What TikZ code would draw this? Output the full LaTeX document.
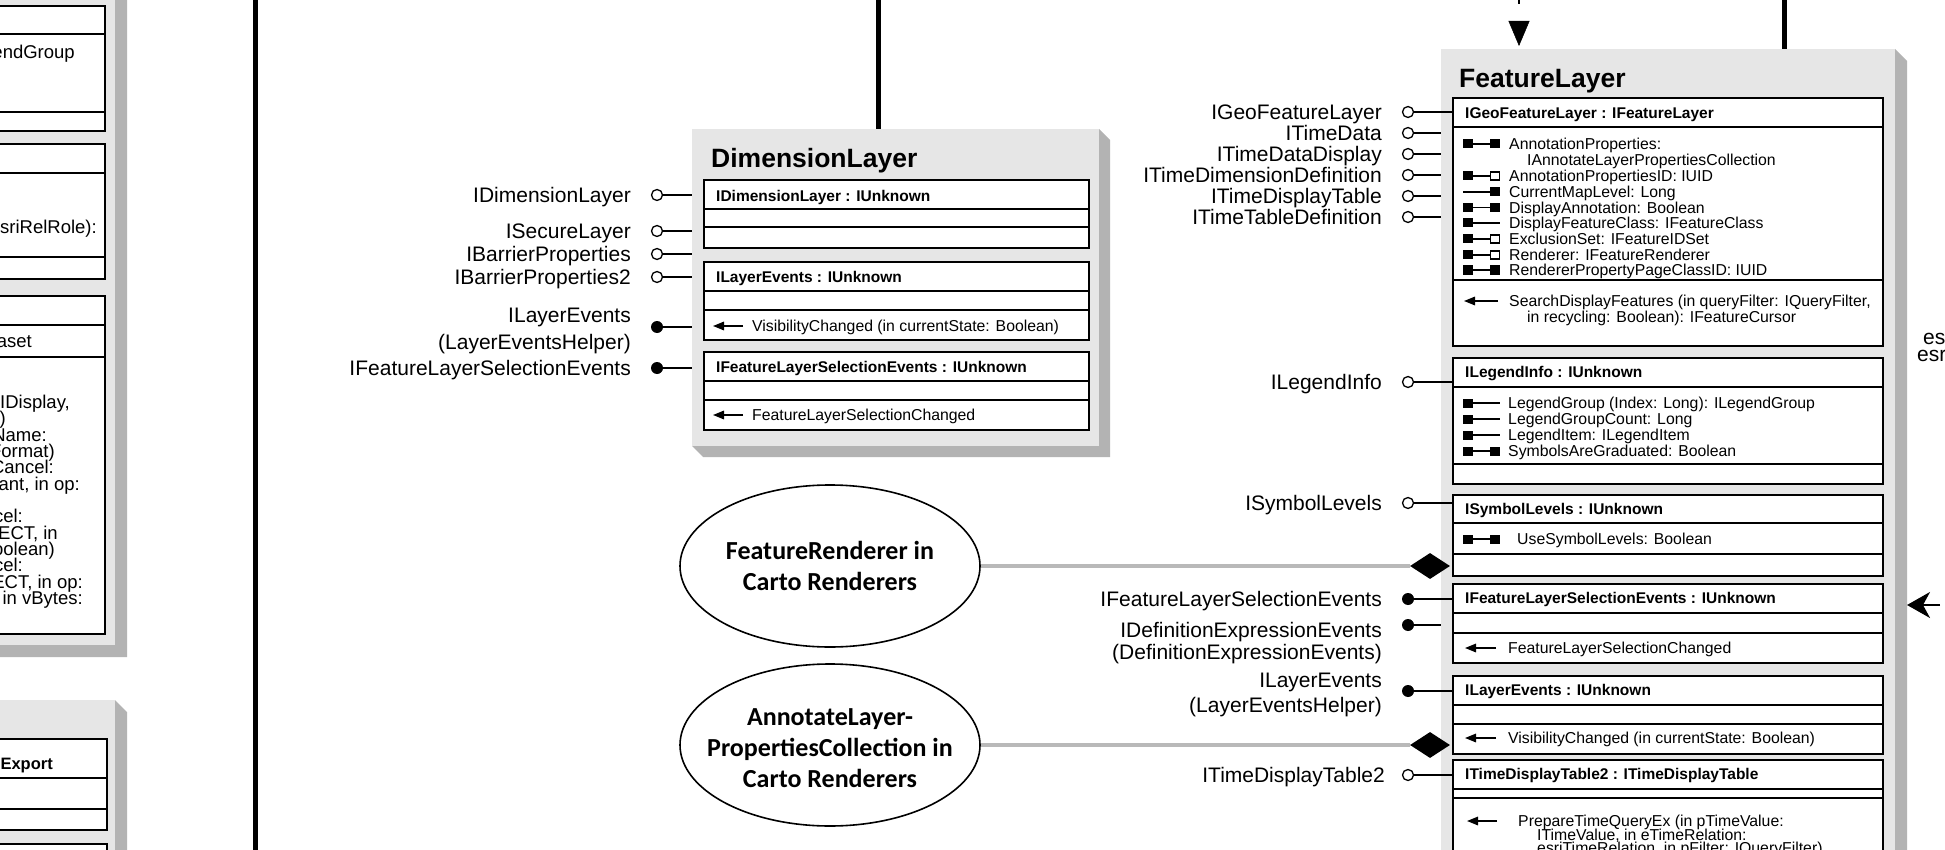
\documentclass[tikz,border=0pt]{standalone}
\usepackage{fontspec}
\setmainfont{Liberation Sans}
\newfontfamily\carlito{Carlito}
\usetikzlibrary{arrows.meta,shapes.geometric}
\definecolor{panelc}{HTML}{E6E6E6}
\definecolor{shadowc}{HTML}{B3B3B3}
\definecolor{linkc}{HTML}{B9B9B9}
\tikzset{
 lbl/.style={font=\fontsize{21}{21}\selectfont, inner sep=0pt, anchor=base east},
 btx/.style={font=\fontsize{15.8}{16}\selectfont, inner sep=0pt, anchor=base west},
 ltx/.style={font=\fontsize{18.5}{18.5}\selectfont, inner sep=0pt, anchor=base east},
 bhd/.style={font=\bfseries\fontsize{15.5}{16}\selectfont, inner sep=0pt, anchor=base west},
 bhde/.style={font=\bfseries\fontsize{16.5}{17}\selectfont, inner sep=0pt, anchor=base east},
 ttl/.style={font=\bfseries\fontsize{26.5}{28}\selectfont, inner sep=0pt, anchor=base west},
 cbox/.style={draw, line width=1.6pt, fill=white, inner sep=0pt, anchor=north west},
 cdiv/.style={line width=1.5pt},
 panelsty/.style={fill=panelc, draw=none, inner sep=0pt, anchor=north west},
 olol/.style={circle, draw, line width=1.3pt, fill=white, inner sep=0pt, minimum size=11pt},
 flol/.style={circle, fill=black, inner sep=0pt, minimum size=12pt},
 lolline/.style={line width=1.5pt},
 marrow/.style={line width=1.6pt, -{Triangle[length=11pt,width=8.5pt]}},
 bigline/.style={line width=5pt},
 link/.style={line width=3.5pt, draw=linkc},
 comp/.style={diamond, fill=black, inner sep=0pt, minimum width=40pt, minimum height=26pt},
 clsE/.style={ellipse, draw, line width=1.6pt, minimum width=300pt, minimum height=162pt, inner sep=0pt},
 clsT/.style={align=center, inner sep=0pt, font=\carlito\bfseries\fontsize{26}{31}\selectfont},
}
% name L T W H s
\newcommand\Panel[6]{%
 \fill[shadowc] (#2+#4,#3) -- ++(#6,#6) -- ++(0,#5) -- ++(-#4,0) -- ++(-#6,-#6) -- cycle;
 \node[panelsty, minimum width=#4pt, minimum height=#5pt] (#1) at (#2,#3) {};}
% name x y w h
\newcommand\CBox[5]{\node[cbox, minimum width=#4pt, minimum height=#5pt] (#1) at (#2,#3) {};}
\newcommand\Div[3]{\draw[cdiv] (#1,#3) -- (#2,#3);}
\newcommand\Sq[2]{\fill (#1-5,#2-4.5) rectangle (#1+5,#2+4.5);}
\newcommand\OSq[2]{\draw[line width=1.1pt,fill=white] (#1-4.5,#2-4) rectangle (#1+4.5,#2+4);}
\newcommand\Stm[3]{\draw[line width=1.5pt] (#1,#3) -- (#2,#3);}
\newcommand\IFF[1]{\Sq{1468}{#1}\Stm{1473}{1490}{#1}\Sq{1495}{#1}}
\newcommand\IFO[1]{\Sq{1468}{#1}\Stm{1473}{1490}{#1}\OSq{1495}{#1}}
\newcommand\ILF[1]{\Stm{1463}{1490}{#1}\Sq{1495}{#1}}
\newcommand\IFL[1]{\Sq{1468}{#1}\Stm{1473}{1500}{#1}}
\newcommand\MArr[3]{\draw[marrow] (#2,#3) -- (#1,#3);}
% name style cx cy endx
\newcommand\Lol[5]{\node[#2] (#1) at (#3,#4) {}; \coordinate (#1e) at (#5,#4); \draw[lolline] (#1) -- (#1e);}

\begin{document}
\begin{tikzpicture}[x=1pt,y=-1pt]
\useasboundingbox (0,0) rectangle (1945,850);
\clip (0,0) rectangle (1945,850);

% ---------------- left partial panels ----------------
\Panel{lp1}{-60}{-60}{175}{705}{12}
\CBox{lb1}{-20}{5}{124}{125}
\Div{-20}{104}{34}\Div{-20}{104}{112}
\node[ltx] (lt1) at (75,59) {(Index: Long): ILegendGroup};
\CBox{lb2}{-20}{143}{124}{135}
\Div{-20}{104}{173}\Div{-20}{104}{257}
\node[ltx] (lt2) at (97,233.5) {in role: esriRelRole):};
\CBox{lb3}{-20}{295}{124}{338}
\Div{-20}{104}{325}\Div{-20}{104}{357}
\node[ltx] (lt3) at (32,347.5) {IDataset};
\node[ltx] (lm1) at (70,408.5) {Display: IDisplay,};
\node[ltx] (lm2) at (6,424.5) {OLE\_HANDLE)};
\node[ltx] (lm3) at (47,441.5) {in Name:};
\node[ltx] (lm4) at (55,457.5) {in Format)};
\node[ltx] (lm5) at (54,473.5) {trackCancel:};
\node[ltx] (lm6) at (80,490.5) {Variant, in op:};
\node[ltx] (lm7) at (23,522.5) {trackCancel:};
\node[ltx] (lm8) at (58,539.5) {tagRECT, in};
\node[ltx] (lm9) at (55,555.5) {Boolean)};
\node[ltx] (lm10) at (23,571.5) {trackCancel:};
\node[ltx] (lm11) at (83,588.5) {tagRECT, in op:};
\node[ltx] (lm12) at (83,604.5) {Variant, in vBytes:};

\Panel{lp2}{-60}{700}{175}{200}{12}
\CBox{lb4}{-20}{738}{126}{91}
\Div{-20}{106}{778}\Div{-20}{106}{809}
\node[bhde] (lt4) at (53,769) {Export};
\CBox{lb5}{-20}{843}{126}{60}

% ---------------- vertical lines ----------------
\coordinate (t1) at (255,-10); \coordinate (b1) at (255,860);
\draw[bigline] (t1) -- (b1);

% ---------------- DimensionLayer ----------------
\Panel{dimP}{692}{129}{407}{317}{11}
\coordinate (t2) at (878,-10);
\draw[bigline] (t2) -- (t2 |- dimP.north);
\node[ttl] (dimT) at (711,167.5) {DimensionLayer};
\CBox{dA}{703}{179}{385}{68}
\Div{703}{1088}{209}\Div{703}{1088}{227}
\node[bhd] (dAh) at (716,201.6) {IDimensionLayer : IUnknown};
\CBox{dB}{703}{261}{385}{78}
\Div{703}{1088}{291}\Div{703}{1088}{310}
\node[bhd] (dBh) at (716,282.6) {ILayerEvents : IUnknown};
\MArr{713}{743}{326}
\node[btx] (dBm) at (752,331.6) {VisibilityChanged (in currentState: Boolean)};
\CBox{dC}{703}{351}{385}{78}
\Div{703}{1088}{381}\Div{703}{1088}{400}
\node[bhd] (dCh) at (716,372.6) {IFeatureLayerSelectionEvents : IUnknown};
\MArr{713}{743}{415}
\node[btx] (dCm) at (752,420.6) {FeatureLayerSelectionChanged};

\Lol{dl1}{olol}{657}{195}{692}
\node[lbl] (dl1t) at (631,202.5) {IDimensionLayer};
\Lol{dl2}{olol}{657}{231}{692}
\node[lbl] (dl2t) at (631,238.5) {ISecureLayer};
\Lol{dl3}{olol}{657}{254}{692}
\node[lbl] (dl3t) at (631,261.5) {IBarrierProperties};
\Lol{dl4}{olol}{657}{277}{692}
\node[lbl] (dl4t) at (631,284.5) {IBarrierProperties2};
\Lol{dl5}{flol}{657}{327}{692}
\node[lbl] (dl5t) at (631,322.5) {ILayerEvents};
\node[lbl] (dl5u) at (631,349.5) {(LayerEventsHelper)};
\Lol{dl6}{flol}{657}{368}{692}
\node[lbl] (dl6t) at (631,375.5) {IFeatureLayerSelectionEvents};

% ---------------- FeatureLayer ----------------
\Panel{flP}{1441}{49}{454}{851}{12}
\coordinate (t3) at (1784,-10);
\draw[bigline] (t3) -- (t3 |- flP.north);
\coordinate (t4) at (1519,-10); \coordinate (t4b) at (1519,4);
\draw[line width=2.5pt] (t4) -- (t4b);
\coordinate (a4s) at (1519,21); \coordinate (a4) at (1519,46);
\draw[line width=0.5pt, -{Triangle[length=25pt,width=21pt]}] (a4s) -- (a4);
\node[ttl] (flT) at (1459,87.5) {FeatureLayer};

\CBox{f1}{1452}{97}{430}{248}
\Div{1452}{1882}{127}\Div{1452}{1882}{280}
\node[bhd] (f1h) at (1465,118.6) {IGeoFeatureLayer : IFeatureLayer};
\IFF{144}\node[btx] (f1a) at (1509,149.6) {AnnotationProperties:};
\node[btx] (f1b) at (1527,165.6) {IAnnotateLayerPropertiesCollection};
\IFO{176}\node[btx] (f1c) at (1509,181.6) {AnnotationPropertiesID: IUID};
\ILF{192}\node[btx] (f1d) at (1509,197.6) {CurrentMapLevel: Long};
\IFF{207.5}\node[btx] (f1e) at (1509,213.1) {DisplayAnnotation: Boolean};
\IFL{223}\node[btx] (f1f) at (1509,228.6) {DisplayFeatureClass: IFeatureClass};
\IFO{239}\node[btx] (f1g) at (1509,244.6) {ExclusionSet: IFeatureIDSet};
\IFO{255}\node[btx] (f1i) at (1509,260.6) {Renderer: IFeatureRenderer};
\IFF{270}\node[btx] (f1j) at (1509,275.6) {RendererPropertyPageClassID: IUID};
\MArr{1464}{1498}{301}
\node[btx] (f1k) at (1509,306.6) {SearchDisplayFeatures (in queryFilter: IQueryFilter,};
\node[btx] (f1l) at (1527,322.6) {in recycling: Boolean): IFeatureCursor};

\CBox{f2}{1452}{357}{430}{126}
\Div{1452}{1882}{387}\Div{1452}{1882}{464}
\node[bhd] (f2h) at (1465,377.6) {ILegendInfo : IUnknown};
\IFL{403}\node[btx] (f2a) at (1508,408.6) {LegendGroup (Index: Long): ILegendGroup};
\IFL{419}\node[btx] (f2b) at (1508,424.6) {LegendGroupCount: Long};
\IFL{435}\node[btx] (f2c) at (1508,440.6) {LegendItem: ILegendItem};
\IFF{451}\node[btx] (f2d) at (1508,456.6) {SymbolsAreGraduated: Boolean};

\CBox{f3}{1452}{494}{430}{81}
\Div{1452}{1882}{523}\Div{1452}{1882}{554}
\node[bhd] (f3h) at (1465,514.6) {ISymbolLevels : IUnknown};
\IFF{539}\node[btx] (f3a) at (1517,544.6) {UseSymbolLevels: Boolean};

\CBox{f4}{1452}{583}{430}{79}
\Div{1452}{1882}{613}\Div{1452}{1882}{633}
\node[bhd] (f4h) at (1465,603.6) {IFeatureLayerSelectionEvents : IUnknown};
\MArr{1465}{1496}{648}
\node[btx] (f4a) at (1508,653.6) {FeatureLayerSelectionChanged};

\CBox{f5}{1452}{675}{430}{78}
\Div{1452}{1882}{705}\Div{1452}{1882}{724}
\node[bhd] (f5h) at (1465,695.6) {ILayerEvents : IUnknown};
\MArr{1465}{1496}{738}
\node[btx] (f5a) at (1508,743.6) {VisibilityChanged (in currentState: Boolean)};

\CBox{f6}{1452}{759}{430}{140}
\Div{1452}{1882}{789}\Div{1452}{1882}{798}
\node[bhd] (f6h) at (1465,779.6) {ITimeDisplayTable2 : ITimeDisplayTable};
\MArr{1467}{1497}{821}
\node[btx] (f6a) at (1518,826.6) {PrepareTimeQueryEx (in pTimeValue:};
\node[btx] (f6b) at (1537,840.1) {ITimeValue, in eTimeRelation:};
\node[btx] (f6c) at (1537,853.6) {esriTimeRelation, in pFilter: IQueryFilter)};

% lollipops of FeatureLayer
\Lol{fl1}{olol}{1408}{112}{1452}
\node[lbl] (fl1t) at (1382,119.5) {IGeoFeatureLayer};
\Lol{fl2}{olol}{1408}{133}{1441}
\node[lbl] (fl2t) at (1382,140.5) {ITimeData};
\Lol{fl3}{olol}{1408}{154}{1441}
\node[lbl] (fl3t) at (1382,161.5) {ITimeDataDisplay};
\Lol{fl4}{olol}{1408}{175}{1441}
\node[lbl] (fl4t) at (1382,182.5) {ITimeDimensionDefinition};
\Lol{fl5}{olol}{1408}{196}{1441}
\node[lbl] (fl5t) at (1382,203.5) {ITimeDisplayTable};
\Lol{fl6}{olol}{1408}{217}{1441}
\node[lbl] (fl6t) at (1382,224.5) {ITimeTableDefinition};
\Lol{fl7}{olol}{1408}{382}{1452}
\node[lbl] (fl7t) at (1382,389.5) {ILegendInfo};
\Lol{fl8}{olol}{1408}{503}{1452}
\node[lbl] (fl8t) at (1382,510.5) {ISymbolLevels};
\Lol{fl9}{flol}{1408}{599}{1452}
\node[lbl] (fl9t) at (1382,606.5) {IFeatureLayerSelectionEvents};
\Lol{fl10}{flol}{1408}{625}{1441}
\node[lbl] (fl10t) at (1382,637.5) {IDefinitionExpressionEvents};
\node[lbl] (fl10u) at (1382,659.5) {(DefinitionExpressionEvents)};
\Lol{fl11}{flol}{1408}{691}{1452}
\node[lbl] (fl11t) at (1382,687.5) {ILayerEvents};
\node[lbl] (fl11u) at (1382,712.5) {(LayerEventsHelper)};
\Lol{fl12}{olol}{1408}{775}{1452}
\node[lbl] (fl12t) at (1385,782.5) {ITimeDisplayTable2};

% ---------------- ellipses and compositions ----------------
\node[clsE] (e1) at (830,566) {};
\node[clsT] (e1t) at (e1) {FeatureRenderer in\\Carto Renderers};
\node[comp] (d1) at (1430,566) {};
\draw[link] (e1.east) -- (d1.west);
\node[clsE] (e2) at (830,745) {};
\node[clsT] (e2t) at (830,748) {AnnotateLayer-\\PropertiesCollection in\\Carto Renderers};
\node[comp] (d2) at (1430,745) {};
\draw[link] (e2.east) -- (d2.west);

% ---------------- right edge ----------------
\node[lbl, anchor=base west] (r1) at (1923,344.5) {esri};
\node[lbl, anchor=base west] (r2) at (1917,361) {esri};
\coordinate (ra1) at (1940,605); \coordinate (ra2) at (1907,605);
\draw[line width=2pt, -{Stealth[length=23pt,width=26pt,inset=7pt]}] (ra1) -- (ra2);
\end{tikzpicture}
\end{document}
